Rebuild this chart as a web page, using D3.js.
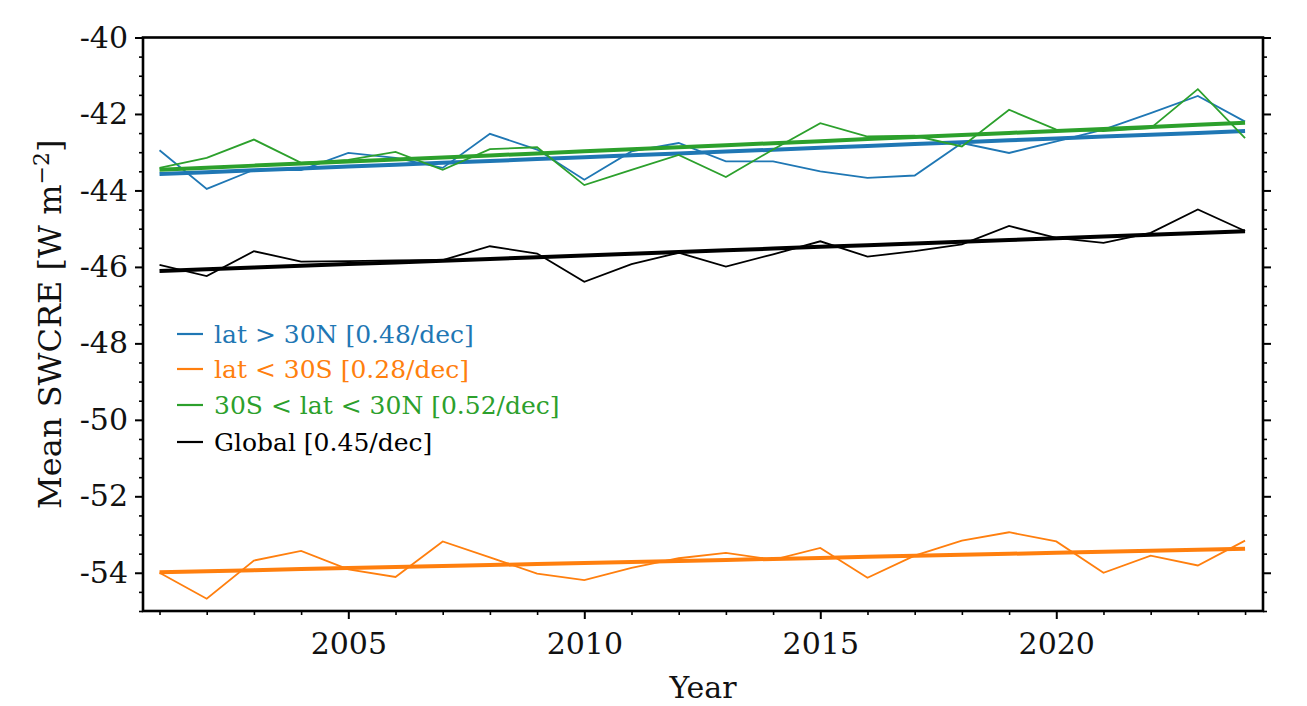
<!DOCTYPE html>
<html><head><meta charset="utf-8">
<script src="https://cdn.jsdelivr.net/npm/d3@7"></script>
<style>
html,body{margin:0;padding:0;background:#fff;}
svg text{font-family:"DejaVu Serif",serif;}
</style></head>
<body><svg id="chart" width="1307" height="706"></svg>
<script>
const years = [2001,2002,2003,2004,2005,2006,2007,2008,2009,2010,2011,2012,2013,2014,2015,2016,2017,2018,2019,2020,2021,2022,2023,2024];
const north   = [-42.95,-43.96,-43.46,-43.47,-43.02,-43.15,-43.41,-42.52,-42.93,-43.72,-42.98,-42.76,-43.24,-43.24,-43.50,-43.67,-43.61,-42.76,-43.02,-42.72,-42.41,-41.98,-41.53,-42.20];
const south   = [-54.00,-54.68,-53.68,-53.43,-53.91,-54.11,-53.18,-53.60,-54.02,-54.19,-53.87,-53.62,-53.48,-53.66,-53.35,-54.13,-53.55,-53.16,-52.94,-53.18,-54.00,-53.55,-53.81,-53.16];
const tropics = [-43.41,-43.15,-42.67,-43.28,-43.20,-42.99,-43.46,-42.92,-42.87,-43.86,-43.46,-43.07,-43.65,-42.93,-42.24,-42.59,-42.57,-42.85,-41.89,-42.41,-42.45,-42.37,-41.35,-42.63];
const global  = [-45.95,-46.24,-45.59,-45.86,-45.85,-45.83,-45.82,-45.46,-45.65,-46.39,-45.93,-45.63,-45.99,-45.67,-45.33,-45.73,-45.59,-45.41,-44.93,-45.24,-45.37,-45.11,-44.50,-45.06];
const seriesNames = ["lat > 30N [0.48/dec]","lat < 30S [0.28/dec]","30S < lat < 30N [0.52/dec]","Global [0.45/dec]"];
const seriesColors = ["#1f77b4","#ff7f0e","#2ca02c","#000000"];
const xTicks = [2005,2010,2015,2020];
const yTicks = [-40,-42,-44,-46,-48,-50,-52,-54];

const seriesData = [north, south, tropics, global];
const svg = d3.select("#chart");
const L = 143, R = 1263, T = 37.5, B = 611;
const x = d3.scaleLinear().domain([2000.65, 2024.38]).range([L, R]);
const y = d3.scaleLinear().domain([-55, -40]).range([B, T]);

function fit(vals){
  const mx = d3.mean(years), my = d3.mean(vals);
  let sxy=0,sxx=0;
  years.forEach((yr,i)=>{sxy+=(yr-mx)*(vals[i]-my); sxx+=(yr-mx)*(yr-mx);});
  const b = sxy/sxx, a = my - b*mx;
  return years.map(yr=>a+b*yr);
}

const line = d3.line().x(d=>x(d[0])).y(d=>y(d[1]));
const plot = svg.append("g");
seriesData.forEach((vals,k)=>{
  plot.append("path").attr("d", line(years.map((yr,i)=>[yr,vals[i]])))
    .attr("fill","none").attr("stroke",seriesColors[k]).attr("stroke-width",1.8).attr("stroke-linejoin","miter");
  const tr = fit(vals);
  plot.append("path").attr("d", line(years.map((yr,i)=>[yr,tr[i]])))
    .attr("fill","none").attr("stroke",seriesColors[k]).attr("stroke-width",4);
});

// axes
const fs = 30;
const xAxis = d3.axisBottom(x).tickValues(xTicks).tickFormat(d3.format("d")).tickSize(8).tickPadding(14);
const gx = svg.append("g").attr("transform",`translate(0,${B})`).call(xAxis);
gx.select(".domain").remove();
gx.selectAll(".tick line").attr("stroke-width",2);
gx.selectAll("text").attr("font-size",fs).attr("fill","#111");
const gxm = svg.append("g").attr("transform",`translate(0,${B})`).call(d3.axisBottom(x).tickValues(years.filter(v=>!xTicks.includes(v))).tickSize(4).tickFormat(""));
gxm.select(".domain").remove();
gxm.selectAll(".tick line").attr("stroke-width",1.6);

const minorY = d3.range(-55,-39.9,0.5).filter(v=>!yTicks.includes(v));
const yAxis = d3.axisLeft(y).tickValues(yTicks).tickFormat(d=>String(d)).tickSize(8).tickPadding(7);
const gy = svg.append("g").attr("transform",`translate(${L},0)`).call(yAxis);
gy.select(".domain").remove();
gy.selectAll(".tick line").attr("stroke-width",2);
gy.selectAll("text").attr("font-size",fs).attr("fill","#111");
const gym = svg.append("g").attr("transform",`translate(${L},0)`).call(d3.axisLeft(y).tickValues(minorY).tickSize(4).tickFormat(""));
gym.select(".domain").remove(); gym.selectAll(".tick line").attr("stroke-width",1.6);

const gr = svg.append("g").attr("transform",`translate(${R},0)`).call(d3.axisRight(y).tickValues(yTicks).tickSize(8).tickFormat(""));
gr.select(".domain").remove(); gr.selectAll(".tick line").attr("stroke-width",2);
const grm = svg.append("g").attr("transform",`translate(${R},0)`).call(d3.axisRight(y).tickValues(minorY).tickSize(4).tickFormat(""));
grm.select(".domain").remove(); grm.selectAll(".tick line").attr("stroke-width",1.6);

// frame
svg.append("rect").attr("x",L).attr("y",T).attr("width",R-L).attr("height",B-T)
  .attr("fill","none").attr("stroke","#000").attr("stroke-width",2.6);

// labels
svg.append("text").attr("x",(L+R)/2).attr("y",698).attr("text-anchor","middle").attr("font-size",fs).attr("fill","#111").text("Year");
const yl = svg.append("text").attr("transform",`translate(61,${(T+B)/2}) rotate(-90)`).attr("text-anchor","middle").attr("font-size",32).attr("fill","#111");
yl.append("tspan").text("Mean SWCRE [W m");
yl.append("tspan").attr("font-size",22).attr("dy",-12).text("\u22122");
yl.append("tspan").attr("dy",12).text("]");

// legend
const legY = [334, 369, 405, 442];
const leg = svg.append("g");
seriesNames.forEach((name,k)=>{
  leg.append("line").attr("x1",177).attr("x2",203).attr("y1",legY[k]).attr("y2",legY[k])
    .attr("stroke",seriesColors[k]).attr("stroke-width",2.2);
  leg.append("text").attr("x",214).attr("y",legY[k]).attr("dy","0.35em").attr("font-size",25)
    .attr("fill",seriesColors[k]).text(name);
});
</script></body></html>
